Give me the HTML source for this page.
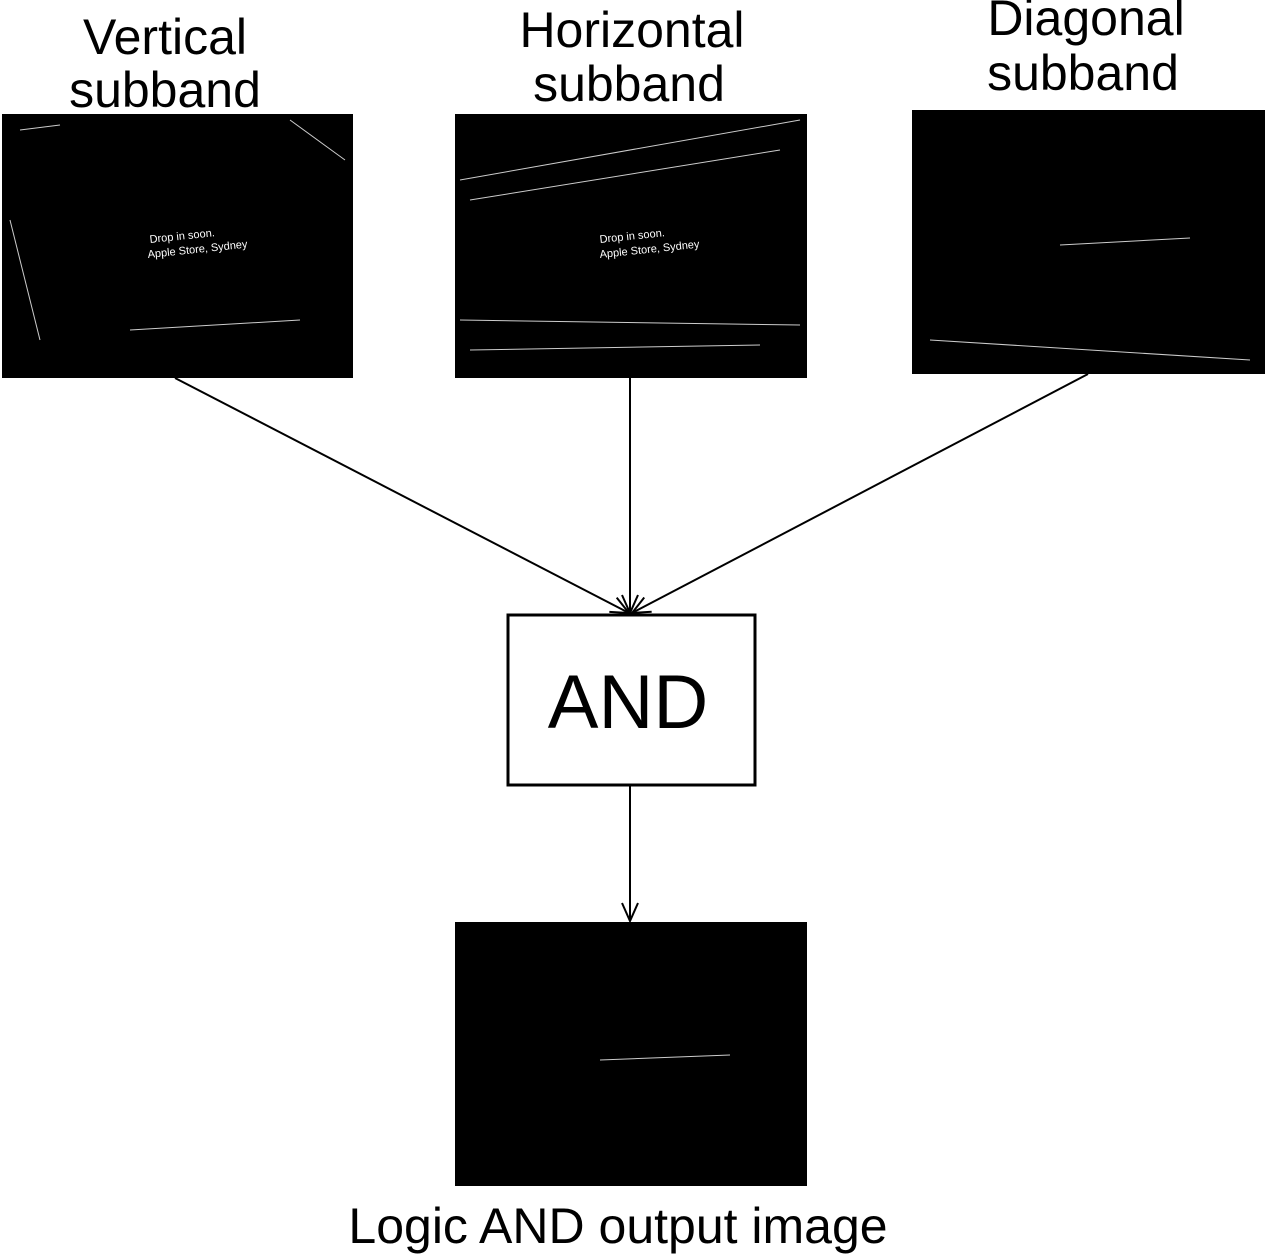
<!DOCTYPE html>
<html><head><meta charset="utf-8"><style>
body{margin:0;width:1265px;height:1256px;background:#fff;overflow:hidden}
svg{display:block}
text{font-family:"Liberation Sans",sans-serif;fill:#000}
</style></head><body>
<svg width="1265" height="1256" viewBox="0 0 1265 1256">
<defs>
<marker id="a" markerWidth="24" markerHeight="24" refX="20" refY="10" orient="auto" markerUnits="userSpaceOnUse">
<path d="M2,2 L20,10 L2,18" fill="none" stroke="#000" stroke-width="2"/>
</marker>
</defs>
<text x="165" y="54" font-size="50" text-anchor="middle">Vertical</text>
<text x="165" y="107" font-size="50" text-anchor="middle">subband</text>
<text x="632" y="47" font-size="50" text-anchor="middle">Horizontal</text>
<text x="629" y="101" font-size="50" text-anchor="middle">subband</text>
<text x="1086" y="35" font-size="50" text-anchor="middle">Diagonal</text>
<text x="1083" y="90" font-size="50" text-anchor="middle">subband</text>

<rect x="2" y="114" width="351" height="264" fill="#000"/>
<rect x="455" y="114" width="352" height="264" fill="#000"/>
<rect x="912" y="110" width="353" height="264" fill="#000"/>
<rect x="455" y="922" width="352" height="264" fill="#000"/>

<g stroke="#fff" stroke-width="1" opacity="0.8">
<line x1="20" y1="130" x2="60" y2="125"/><line x1="290" y1="120" x2="345" y2="160"/>
<line x1="10" y1="220" x2="40" y2="340"/><line x1="130" y1="330" x2="300" y2="320"/>
<line x1="460" y1="180" x2="800" y2="120"/><line x1="470" y1="200" x2="780" y2="150"/>
<line x1="460" y1="320" x2="800" y2="325"/><line x1="470" y1="350" x2="760" y2="345"/>
<line x1="930" y1="340" x2="1250" y2="360"/><line x1="1060" y1="245" x2="1190" y2="238"/>
<line x1="600" y1="1060" x2="730" y2="1055"/>
</g>
<text x="150" y="243" font-size="11" style="fill:#fff" transform="rotate(-6 150 243)">Drop in soon.</text>
<text x="148" y="258" font-size="11" style="fill:#fff" transform="rotate(-6 148 258)">Apple Store, Sydney</text>
<text x="600" y="243" font-size="11" style="fill:#fff" transform="rotate(-6 600 243)">Drop in soon.</text>
<text x="600" y="258" font-size="11" style="fill:#fff" transform="rotate(-6 600 258)">Apple Store, Sydney</text>

<g stroke="#000" stroke-width="2" fill="none">
<line x1="175" y1="378" x2="629" y2="613" marker-end="url(#a)"/>
<line x1="630" y1="378" x2="630" y2="613" marker-end="url(#a)"/>
<line x1="1088" y1="374" x2="632" y2="613" marker-end="url(#a)"/>
<line x1="630" y1="786" x2="630" y2="921" marker-end="url(#a)"/>
</g>
<rect x="508" y="615" width="247" height="170" fill="#fff" stroke="#000" stroke-width="3"/>
<text x="628" y="728" font-size="76" text-anchor="middle">AND</text>
<text x="618" y="1243" font-size="50" text-anchor="middle">Logic AND output image</text>
</svg>
</body></html>
